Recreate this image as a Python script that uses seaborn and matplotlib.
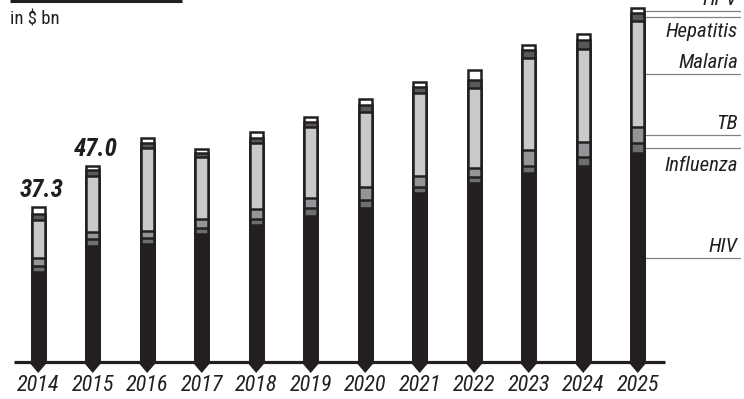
import numpy as np
import pandas as pd
import matplotlib
matplotlib.use("Agg")
import matplotlib.pyplot as plt
from matplotlib import font_manager
from matplotlib.font_manager import FontProperties
from matplotlib.lines import Line2D
import seaborn as sns

# Spending by disease area, in $ bn
years = ["2014", "2015", "2016", "2017", "2018", "2019",
         "2020", "2021", "2022", "2023", "2024", "2025"]
hiv = [21.6, 27.9, 28.4, 30.8, 33.0, 35.1, 37.1, 40.6, 43.0, 45.5, 47.1, 50.2]
influenza = [1.5, 1.7, 1.4, 1.4, 1.4, 2.0, 1.9, 1.4, 1.5, 1.6, 2.1, 2.4]
tb = [1.8, 1.7, 1.7, 2.2, 2.4, 2.4, 3.0, 2.8, 2.1, 3.9, 3.8, 3.9]
malaria = [9.3, 13.5, 19.9, 14.9, 15.9, 17.1, 18.0, 19.8, 19.3, 22.1, 22.2, 25.5]
hepatitis = [1.4, 1.3, 1.2, 0.9, 1.2, 1.1, 1.8, 1.5, 1.9, 2.0, 2.3, 1.8]
hpv = [1.7, 0.9, 1.2, 1.0, 1.4, 1.3, 1.5, 1.2, 2.4, 1.2, 1.3, 1.3]

segment_names = ["HIV", "Influenza", "TB", "Malaria", "Hepatitis", "HPV"]
segment_values = [hiv, influenza, tb, malaria, hepatitis, hpv]
segment_colors = ["#231f20", "#6d6e71", "#939598", "#c8c9cb", "#58595b", "#ffffff"]
labelled_years = ["2014", "2015"]

DARK = "#231f20"

sns.set_theme(style="white")


def pick_condensed_font():
    """Return (family, stretch) for a narrow sans face if one is installed."""
    candidates = [("Liberation Sans Narrow", "normal"),
                  ("Roboto Condensed", "normal"),
                  ("Open Sans Condensed", "normal"),
                  ("Noto Sans", "condensed"),
                  ("Roboto", "condensed"),
                  ("Open Sans", "condensed"),
                  ("DejaVu Sans", "condensed")]
    for fam, stretch in candidates:
        try:
            path = font_manager.findfont(FontProperties(family=fam, stretch=stretch),
                                         fallback_to_default=False)
        except Exception:
            continue
        low = path.lower()
        if "cond" in low or "narrow" in low:
            return fam, stretch
    return "Roboto", "normal"


base_font, base_stretch = pick_condensed_font()
plt.rcParams["font.family"] = [base_font, "DejaVu Sans"]
plt.rcParams["font.stretch"] = base_stretch

W, H = 744, 399
fig = plt.figure(figsize=(W / 100, H / 100), dpi=100)
ax = fig.add_axes([0, 0, 1, 1])

# pixel geometry of the category / value scales
x0_px, step_px = 38.2, 54.5          # first bar centre, bar spacing
base_px, unit_px = 362.0, 4.16       # baseline from top, px per $ bn
px_x = 1.0 / step_px
px_y = 1.0 / unit_px

totals = np.cumsum(np.array(segment_values), axis=0)
df = pd.DataFrame({"year": years})
for name, cum in zip(segment_names, totals):
    df[name] = cum

bar_w = 0.235
edge_lw = 1.8
for name, color in reversed(list(zip(segment_names, segment_colors))):
    sns.barplot(data=df, x="year", y=name, order=years, color=color,
                saturation=1, width=bar_w, edgecolor=DARK, linewidth=edge_lw,
                errorbar=None, ax=ax, zorder=3)

# baseline rule
ax.plot([-24.2 * px_x, 11.5], [0, 0], color=DARK, lw=2.3,
        solid_capstyle="butt", zorder=2)

# arrow tips under each bar
half = (bar_w + 2.5 * px_x) / 2
for i in range(len(years)):
    ax.fill([i - half, i + half, i + half, i, i - half],
            [0, 0, -2 * px_y, -11 * px_y, -2 * px_y],
            color=DARK, lw=0, zorder=4)

# year labels
for i, y in enumerate(years):
    ax.text(i, -23.5 * px_y, y, ha="center", va="center", fontsize=16,
            style="italic", color=DARK)

# value labels over the first two bars
grand = totals[-1]
for y in labelled_years:
    i = years.index(y)
    ax.text(i + 3 * px_x, grand[i] + 10 * px_y, f"{grand[i]:.1f}", ha="center",
            va="baseline", fontsize=18, fontweight="bold", style="italic",
            color=DARK)

# segment key on the last bar
last = len(years) - 1
lower = np.concatenate([[0], totals[:-1, last]])
mids = (lower + totals[:, last]) / 2
x_end = (740 - x0_px) * px_x
text_offsets = {"HIV": 6, "Influenza": -23, "TB": 6, "Malaria": 5.5,
                "Hepatitis": -19.5, "HPV": 5.5}
for name, m in zip(segment_names, mids):
    ax.plot([last + half, x_end], [m, m], color="#808285", lw=0.9, zorder=2)
    ax.annotate(name, xy=(x_end - 2 * px_x, m),
                xytext=(0, text_offsets[name] * 0.72), textcoords="offset points",
                ha="right", va="baseline", fontsize=15, style="italic",
                color=DARK)

ax.set_xlim(-x0_px * px_x, (W - x0_px) * px_x)
ax.set_ylim(-(H - base_px) * px_y, base_px * px_y)
ax.set_axis_off()

# header rule and unit note
fig.add_artist(Line2D([10 / W, 182 / W], [1 - 1.3 / H] * 2, color=DARK,
                      lw=2.2, solid_capstyle="butt"))
fig.text(10 / W, 1 - 20 / H, "in $ bn", ha="left", va="center",
         fontsize=13.5, color=DARK)

fig.savefig("out.png", dpi=100)
